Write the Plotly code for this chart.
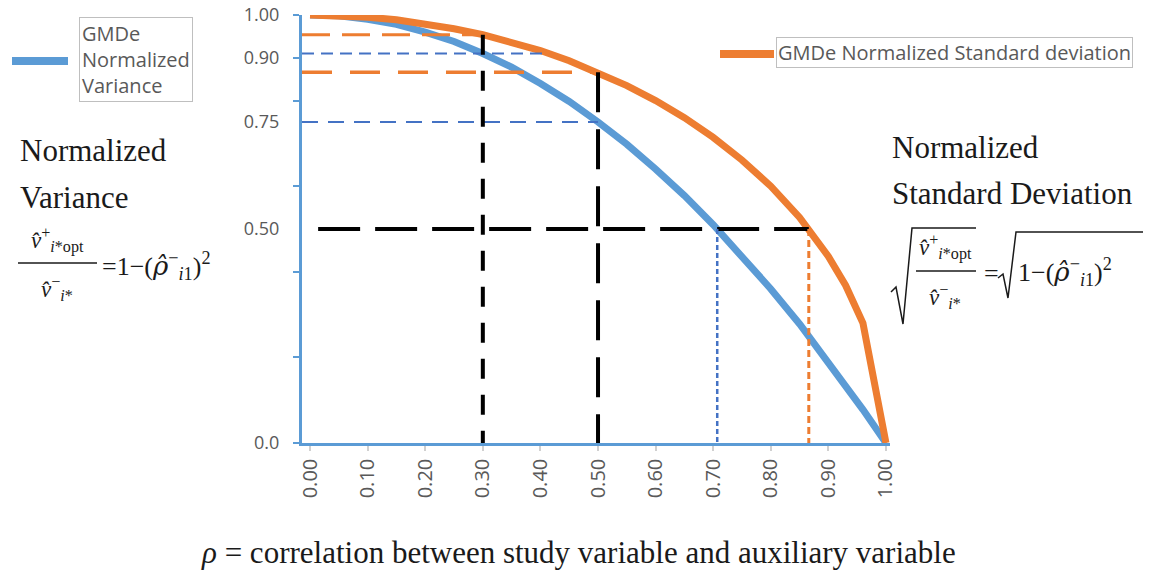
import plotly.graph_objects as go

# ---------------- data ----------------
rho = [0.00, 0.05, 0.10, 0.15, 0.20, 0.25, 0.30, 0.35, 0.40, 0.45, 0.50,
       0.55, 0.60, 0.65, 0.70, 0.75, 0.80, 0.85, 0.90, 0.93, 0.96, 1.00]
norm_variance = [1.000, 0.998, 0.990, 0.978, 0.960, 0.938, 0.910, 0.878, 0.840, 0.798, 0.750,
                 0.698, 0.640, 0.578, 0.510, 0.438, 0.360, 0.278, 0.190, 0.135, 0.078, 0.000]
norm_sd = [1.000, 0.999, 0.995, 0.989, 0.980, 0.968, 0.954, 0.937, 0.917, 0.893, 0.866,
           0.835, 0.800, 0.760, 0.714, 0.661, 0.600, 0.527, 0.436, 0.368, 0.280, 0.000]

# horizontal guide lines: level, from x, to x
h_levels = [0.954, 0.910, 0.866, 0.750, 0.500]
h_from = [-0.014, -0.014, -0.014, -0.014, 0.014]
h_to = [0.300, 0.415, 0.500, 0.500, 0.866]
# vertical guide lines: x, top y
v_x = [0.300, 0.500, 0.707, 0.866]
v_top = [0.954, 0.866, 0.500, 0.500]

x_tickvals = [0.0, 0.1, 0.2, 0.3, 0.4, 0.5, 0.6, 0.7, 0.8, 0.9, 1.0]
x_ticktext = ["0.00", "0.10", "0.20", "0.30", "0.40", "0.50", "0.60", "0.70", "0.80", "0.90", "1.00"]
y_tickvals = [0.0, 0.50, 0.75, 0.90, 1.00]
y_ticktext = ["0.0", "0.50", "0.75", "0.90", "1.00"]
y_minor_ticks = [0.0, 0.2, 0.4, 0.6, 0.8, 0.9, 1.0]

legend_var = "GMDe<br>Normalized<br>Variance"
legend_sd = "GMDe Normalized Standard deviation"
x_title = "<i>ρ</i> = correlation between study variable and auxiliary variable"

# ---------------- styles ----------------
BLUE = "#5b9bd5"
DBLUE = "#4472c4"
ORANGE = "#ed7d31"
BLACK = "#000000"
h_styles = [(ORANGE, 3, "28px,12px"), (DBLUE, 2, "12px,7px"), (ORANGE, 3.5, "30px,18px"),
            (DBLUE, 2, "16px,10px"), (BLACK, 4, "42px,15px")]
v_styles = [(BLACK, 4, "20px,16px"), (BLACK, 4, "40px,17px"), (DBLUE, 2.5, "5px,3px"),
            (ORANGE, 3, "7px,4px")]

# page body has an 8px margin: the figure div starts at (8, 8) in the window
OFF = 8
W, H = 1151 - OFF, 577 - OFF
L, R, T, B = 302, 890, 15, 443   # plot area in window pixels


def px(X):
    return (X - L) / (R - L)


def py(Y):
    return (B - Y) / (B - T)


fig = go.Figure()
fig.add_trace(go.Scatter(x=rho, y=norm_variance, mode="lines",
                         line=dict(color=BLUE, width=7), cliponaxis=False,
                         name="GMDe Normalized Variance"))
fig.add_trace(go.Scatter(x=rho, y=norm_sd, mode="lines",
                         line=dict(color=ORANGE, width=7), cliponaxis=False,
                         name="GMDe Normalized Standard deviation"))

for lvl, x0, x1, (c, w, d) in zip(h_levels, h_from, h_to, h_styles):
    fig.add_trace(go.Scatter(x=[x0, x1], y=[lvl, lvl], mode="lines",
                             line=dict(color=c, width=w, dash=d), cliponaxis=False))
for xv, top, (c, w, d) in zip(v_x, v_top, v_styles):
    fig.add_trace(go.Scatter(x=[xv, xv], y=[top, 0], mode="lines",
                             line=dict(color=c, width=w, dash=d), cliponaxis=False))

SANS = "Open Sans"
SERIF = "Liberation Serif"
GRAY = "#595959"
RHO_HAT = '<span style="font-family:\'DejaVu Serif\'"><i>ρ̂</i></span>'

annotations = []
shapes = []


def text(X, Y, t, size, family=SERIF, color="#1a1a1a", xanchor="left", **kw):
    annotations.append(dict(x=px(X), y=py(Y), xref="paper", yref="paper", text=t,
                            showarrow=False, xanchor=xanchor, yanchor="middle",
                            font=dict(family=family, size=size, color=color), **kw))


def seg(X0, Y0, X1, Y1, color, width):
    shapes.append(dict(type="line", xref="paper", yref="paper", x0=px(X0), y0=py(Y0),
                       x1=px(X1), y1=py(Y1), line=dict(color=color, width=width)))


def path(points, color="#1a1a1a", width=1.5):
    p = "M " + " L ".join(f"{px(a):.5f},{py(b):.5f}" for a, b in points)
    shapes.append(dict(type="path", xref="paper", yref="paper", path=p,
                       line=dict(color=color, width=width)))


# legends
seg(12, 61, 68, 61, BLUE, 8)
text(79, 59, legend_var, 20, family=SANS, color=GRAY, align="left",
     bordercolor="#bfbfbf", borderwidth=1, borderpad=2)
seg(720, 54, 774, 54, ORANGE, 8)
text(776, 53, legend_sd, 20, family=SANS, color=GRAY,
     bordercolor="#bfbfbf", borderwidth=1, borderpad=1)

# left labels
text(18, 150, "Normalized", 31)
text(18, 197, "Variance", 31)
text(57, 240, "<i>v̂</i><sup>+</sup><sub><i>i</i>*opt</sub>", 23, xanchor="center")
seg(18, 263, 97, 263, "#1a1a1a", 1.5)
text(57, 288, "<i>v̂</i><sup>−</sup><sub><i>i</i>*</sub>", 23, xanchor="center")
text(100, 266, "=1−(" + RHO_HAT + "<sup>−</sup><sub><i>i</i>1</sub>)<sup>2</sup>", 26)

# right labels
text(890, 147, "Normalized", 31)
text(890, 193, "Standard Deviation", 31)
path([(891, 292), (896, 287), (903, 324), (912, 228), (976, 228)])
text(945, 247, "<i>v̂</i><sup>+</sup><sub><i>i</i>*opt</sub>", 23, xanchor="center")
seg(916, 271, 976, 271, "#1a1a1a", 1.5)
text(945, 296, "<i>v̂</i><sup>−</sup><sub><i>i</i>*</sub>", 23, xanchor="center")
text(982, 273, "=", 26)
path([(998, 278), (1003, 274), (1008, 298), (1016, 232), (1147, 232)])
text(1016, 272, "1−(" + RHO_HAT + "<sup>−</sup><sub><i>i</i>1</sub>)<sup>2</sup>", 26)

# x-axis title
text(578, 552, x_title, 31, xanchor="center")

fig.update_layout(
    width=W, height=H, autosize=False,
    margin=dict(l=L - OFF, r=W - (R - OFF), t=T - OFF, b=H - (B - OFF), pad=0,
                autoexpand=False),
    plot_bgcolor="white", paper_bgcolor="white",
    showlegend=False,
    annotations=annotations, shapes=shapes,
    xaxis=dict(range=[-0.014, 1.007], showgrid=False, zeroline=False, automargin=False,
               showline=True, linecolor=BLUE, linewidth=2.5,
               tickmode="array", tickvals=x_tickvals, ticktext=x_ticktext,
               tickangle=-90, ticks="outside", ticklen=5, tickwidth=2, tickcolor="#d0d0d0",
               tickfont=dict(family=SANS, size=20, color=GRAY)),
    yaxis=dict(range=[0, 1.0], showgrid=False, zeroline=False, automargin=False,
               showline=True, linecolor=BLUE, linewidth=3,
               tickmode="array", tickvals=y_tickvals, ticktext=y_ticktext,
               ticks="", ticklabelstandoff=16, ticklabeloverflow="allow",
               minor=dict(tickmode="array", tickvals=y_minor_ticks, ticks="outside",
                          ticklen=6, tickwidth=2, tickcolor=BLUE),
               tickfont=dict(family=SANS, size=18, color=GRAY)),
)

fig.write_html("out.html")
